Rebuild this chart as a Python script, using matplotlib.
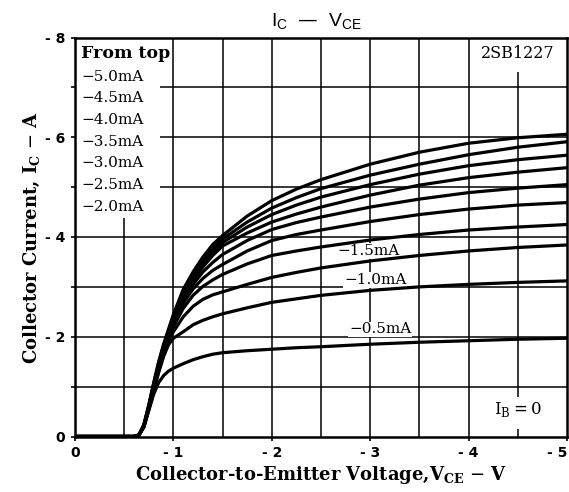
import matplotlib
matplotlib.use("Agg")
import matplotlib.pyplot as plt
from matplotlib.patches import Rectangle

# ---------------- data ----------------
vce = [0, -0.6, -0.65, -0.7, -0.75, -0.8, -0.85, -0.9, -0.95, -1.0, -1.1, -1.2,
       -1.3, -1.4, -1.5, -1.75, -2.0, -2.25, -2.5, -3.0, -3.5, -4.0, -4.5, -5.0]

ic_5p0 = [0, 0, -0.03, -0.24, -0.64, -1.08, -1.50, -1.85, -2.15, -2.45, -2.95, -3.30,
          -3.60, -3.85, -4.03, -4.42, -4.73, -4.96, -5.15, -5.46, -5.70, -5.88, -5.99, -6.06]
ic_4p5 = [0, 0, -0.03, -0.23, -0.62, -1.06, -1.47, -1.82, -2.12, -2.42, -2.90, -3.25,
          -3.53, -3.77, -3.96, -4.30, -4.58, -4.79, -4.97, -5.24, -5.46, -5.65, -5.80, -5.91]
ic_4p0 = [0, 0, -0.03, -0.22, -0.60, -1.04, -1.44, -1.79, -2.09, -2.39, -2.85, -3.19,
          -3.46, -3.70, -3.89, -4.20, -4.45, -4.64, -4.80, -5.05, -5.26, -5.43, -5.55, -5.64]
ic_3p5 = [0, 0, -0.03, -0.22, -0.59, -1.02, -1.41, -1.76, -2.06, -2.36, -2.80, -3.13,
          -3.40, -3.63, -3.82, -4.08, -4.30, -4.46, -4.60, -4.84, -5.04, -5.19, -5.30, -5.39]
ic_3p0 = [0, 0, -0.03, -0.21, -0.58, -1.00, -1.38, -1.73, -2.03, -2.32, -2.74, -3.05,
          -3.30, -3.49, -3.65, -3.93, -4.15, -4.29, -4.40, -4.60, -4.76, -4.89, -4.98, -5.05]
ic_2p5 = [0, 0, -0.03, -0.21, -0.57, -0.98, -1.35, -1.70, -2.00, -2.27, -2.67, -2.96,
          -3.17, -3.33, -3.45, -3.72, -3.93, -4.05, -4.14, -4.31, -4.45, -4.56, -4.64, -4.69]
ic_2p0 = [0, 0, -0.03, -0.20, -0.56, -0.96, -1.33, -1.67, -1.96, -2.20, -2.57, -2.83,
          -3.01, -3.14, -3.25, -3.46, -3.63, -3.72, -3.80, -3.94, -4.05, -4.14, -4.20, -4.25]
ic_1p5 = [0, 0, -0.03, -0.20, -0.55, -0.94, -1.31, -1.64, -1.92, -2.10, -2.40, -2.61,
          -2.75, -2.84, -2.90, -3.05, -3.19, -3.29, -3.38, -3.52, -3.63, -3.72, -3.79, -3.84]
ic_1p0 = [0, 0, -0.03, -0.19, -0.54, -0.92, -1.28, -1.60, -1.84, -1.97, -2.10, -2.24,
          -2.33, -2.40, -2.46, -2.58, -2.69, -2.76, -2.83, -2.93, -3.00, -3.05, -3.09, -3.12]
ic_0p5 = [0, 0, -0.03, -0.19, -0.52, -0.85, -1.08, -1.22, -1.31, -1.37, -1.46, -1.54,
          -1.60, -1.65, -1.68, -1.72, -1.75, -1.78, -1.80, -1.85, -1.89, -1.92, -1.95, -1.97]

curves = [ic_5p0, ic_4p5, ic_4p0, ic_3p5, ic_3p0, ic_2p5, ic_2p0, ic_1p5, ic_1p0, ic_0p5]

legend_labels = ["\u22125.0mA", "\u22124.5mA", "\u22124.0mA", "\u22123.5mA",
                 "\u22123.0mA", "\u22122.5mA", "\u22122.0mA"]

x_ticks = [0, -1, -2, -3, -4, -5]
x_ticklabels = ["0", "- 1", "- 2", "- 3", "- 4", "- 5"]
y_ticks = [0, -1, -2, -3, -4, -5, -6, -7, -8]
y_ticklabels = ["0", "", "- 2", "", "- 4", "", "- 6", "", "- 8"]

# ---------------- figure ----------------
W, H = 569, 492
fig = plt.figure(figsize=(W / 100, H / 100), dpi=100)
L, R, T, B = 75, 567, 37.5, 436.5
ax = fig.add_axes([L / W, 1 - B / H, (R - L) / W, (B - T) / H])

ax.set_xlim(0, -5)
ax.set_ylim(0, -8)

# grid
ax.set_axisbelow(True)
for v in [-0.5 * k for k in range(1, 10)]:
    ax.axvline(v, color="black", lw=1.1, zorder=0.5)
for i in range(-1, -8, -1):
    ax.axhline(i, color="black", lw=1.1, zorder=0.5)

# white areas (legend box & annotation boxes)
ax.add_patch(Rectangle((0, -4.38), -0.86, -3.7, facecolor="white", edgecolor="none", zorder=1))
ax.add_patch(Rectangle((-4.05, -7.3), -0.9, -0.75, facecolor="white", edgecolor="none", zorder=1))
ax.add_patch(Rectangle((-4.15, -0.15), -0.75, -0.65, facecolor="white", edgecolor="none", zorder=1))

for c in curves:
    ax.plot(vce, c, color="black", lw=2.3, solid_capstyle="round", zorder=3)

for s in ax.spines.values():
    s.set_linewidth(1.8)

ax.set_xticks(x_ticks)
ax.set_xticklabels(x_ticklabels)
ax.set_yticks(y_ticks)
ax.set_yticklabels(y_ticklabels)
ax.tick_params(axis="both", direction="out", length=3, width=1.2, pad=4)
for lab in ax.get_xticklabels() + ax.get_yticklabels():
    lab.set_fontweight("bold")
    lab.set_fontsize(10)
    lab.set_family("DejaVu Sans")
ax.get_xticklabels()[-1].set_horizontalalignment("right")
ax.get_xticklabels()[-1].set_x(-5.0)

serif = "DejaVu Serif"
ax.set_xlabel(r"Collector-to-Emitter Voltage,V$_{\mathregular{CE}}$ $-$ V",
              family=serif, fontsize=13, fontweight="bold", labelpad=3)
ax.set_ylabel(r"Collector Current, I$_{\mathregular{C}}$ $-$ A",
              family=serif, fontsize=13, fontweight="bold", labelpad=2)

fig.text(316 / W, 1 - 22 / H, "I$_{\\mathregular{C}}$  \u2014  V$_{\\mathregular{CE}}$",
         ha="center", va="center", family="Liberation Sans", fontsize=14)

# legend text
ax.text(0.012, 0.96, "From top", transform=ax.transAxes, family=serif,
        fontweight="bold", fontsize=12.5, ha="left", va="center", zorder=4)
for k, lab in enumerate(legend_labels):
    ax.text(0.012, 0.902 - 0.0544 * k, lab, transform=ax.transAxes, family=serif,
            fontsize=11, ha="left", va="center", zorder=4)

ax.text(-4.5, -7.68, "2SB1227", family=serif, fontsize=11.5, ha="center", va="center", zorder=4)
ax.text(-4.5, -0.55, r"I$_{\mathregular{B}}$$=$0", family=serif, fontsize=12,
        ha="center", va="center", zorder=4)

for v, i, lab in [(-2.98, -3.72, "\u22121.5mA"), (-3.05, -3.14, "\u22121.0mA"),
                  (-3.1, -2.15, "\u22120.5mA")]:
    ax.text(v, i, lab, family=serif, fontsize=11, ha="center", va="center", zorder=2.5,
            bbox=dict(facecolor="white", edgecolor="none", pad=0.5))

fig.savefig("out.png", dpi=100)
